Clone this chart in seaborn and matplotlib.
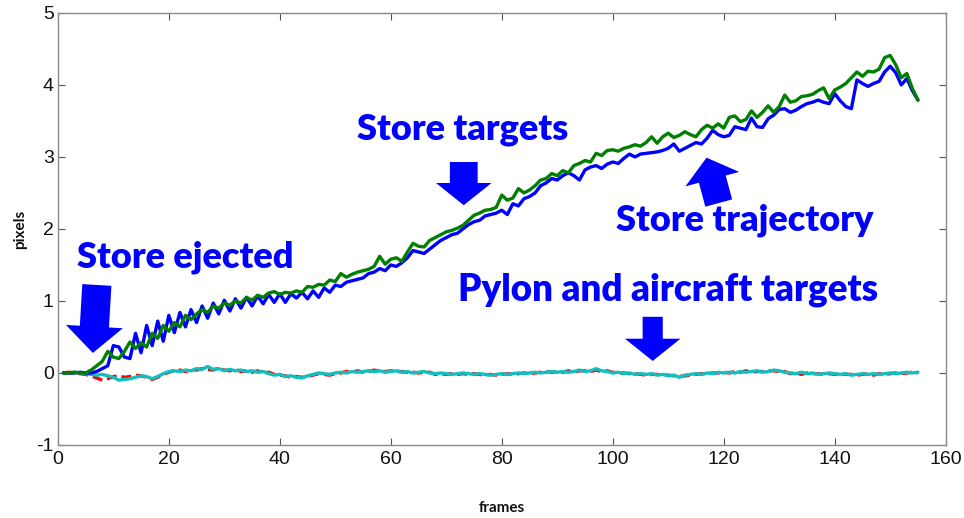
import numpy as np
import pandas as pd
import matplotlib
matplotlib.use("Agg")
import matplotlib.pyplot as plt
import seaborn as sns

# Displacement (pixels) per frame for the tracked targets
frames = list(range(1, 156))

store_trajectory = [
    0.00, 0.00, 0.00, 0.01, 0.00, 0.00, 0.02, 0.06, 0.10, 0.38,
    0.36, 0.22, 0.20, 0.55, 0.28, 0.66, 0.38, 0.72, 0.44, 0.80,
    0.56, 0.84, 0.64, 0.88, 0.70, 0.93, 0.76, 0.97, 0.82, 1.01,
    0.86, 1.03, 0.90, 1.05, 0.93, 1.07, 0.96, 1.09, 0.98, 1.10,
    0.98, 1.10, 1.04, 1.12, 1.03, 1.14, 1.05, 1.18, 1.12, 1.22,
    1.20, 1.26, 1.28, 1.30, 1.32, 1.38, 1.40, 1.45, 1.42, 1.50,
    1.48, 1.53, 1.60, 1.70, 1.68, 1.66, 1.72, 1.78, 1.84, 1.88,
    1.92, 1.94, 2.00, 2.06, 2.10, 2.12, 2.18, 2.20, 2.22, 2.26,
    2.20, 2.35, 2.32, 2.42, 2.45, 2.50, 2.60, 2.64, 2.70, 2.68,
    2.74, 2.78, 2.74, 2.68, 2.82, 2.86, 2.88, 2.84, 2.90, 2.93,
    2.91, 2.98, 3.04, 3.00, 3.04, 3.05, 3.06, 3.07, 3.09, 3.12,
    3.18, 3.08, 3.12, 3.16, 3.20, 3.18, 3.26, 3.37, 3.31, 3.28,
    3.30, 3.42, 3.40, 3.38, 3.54, 3.42, 3.41, 3.53, 3.58, 3.66,
    3.67, 3.62, 3.65, 3.70, 3.74, 3.76, 3.79, 3.76, 3.74, 3.88,
    3.78, 3.70, 3.67, 4.07, 4.02, 3.98, 4.02, 4.05, 4.18, 4.26,
    4.17, 4.00, 4.09, 3.92, 3.79,
]

store_targets = [
    0.00, 0.00, 0.01, 0.00, 0.00, 0.04, 0.10, 0.16, 0.30, 0.22,
    0.20, 0.30, 0.43, 0.34, 0.42, 0.36, 0.55, 0.48, 0.66, 0.58,
    0.70, 0.64, 0.80, 0.74, 0.82, 0.88, 0.84, 0.93, 0.90, 0.97,
    0.94, 1.00, 0.97, 1.05, 1.01, 1.08, 1.05, 1.11, 1.13, 1.09,
    1.12, 1.11, 1.14, 1.12, 1.20, 1.19, 1.23, 1.22, 1.29, 1.27,
    1.38, 1.33, 1.37, 1.40, 1.42, 1.44, 1.48, 1.62, 1.51, 1.58,
    1.60, 1.55, 1.68, 1.80, 1.76, 1.75, 1.84, 1.88, 1.92, 1.96,
    1.98, 2.01, 2.05, 2.12, 2.19, 2.22, 2.26, 2.27, 2.30, 2.47,
    2.40, 2.43, 2.56, 2.50, 2.54, 2.60, 2.68, 2.70, 2.77, 2.74,
    2.81, 2.78, 2.88, 2.91, 2.95, 2.93, 3.05, 3.02, 3.09, 3.10,
    3.08, 3.12, 3.14, 3.17, 3.15, 3.20, 3.28, 3.19, 3.28, 3.33,
    3.27, 3.30, 3.35, 3.31, 3.28, 3.38, 3.44, 3.40, 3.46, 3.40,
    3.55, 3.57, 3.49, 3.52, 3.64, 3.55, 3.62, 3.71, 3.62, 3.70,
    3.86, 3.76, 3.78, 3.84, 3.85, 3.87, 3.92, 3.96, 3.81, 3.93,
    3.97, 4.02, 4.10, 4.18, 4.12, 4.19, 4.18, 4.22, 4.38, 4.41,
    4.28, 4.10, 4.16, 3.95, 3.79,
]

pylon_targets = [
    0.00, 0.01, 0.00, -0.01, -0.02, -0.04, -0.07, -0.10, -0.08, -0.05,
    -0.04, -0.06, -0.05, -0.03, -0.04, -0.06, -0.09, -0.06, -0.02, 0.01,
    0.03, 0.04, 0.02, 0.05, 0.04, 0.06, 0.05, 0.04, 0.07, 0.04,
    0.03, 0.05, 0.02, 0.03, 0.01, 0.03, 0.00, 0.01, -0.02, -0.03,
    -0.04, -0.06, -0.05, -0.06, -0.05, -0.03, -0.01, -0.02, -0.03, -0.01,
    0.00, 0.02, 0.01, 0.03, 0.01, 0.02, 0.04, 0.02, 0.02, 0.03,
    0.02, 0.02, 0.01, 0.01, 0.00, 0.01, 0.01, -0.02, -0.01, -0.02,
    -0.01, -0.02, -0.01, -0.02, -0.01, -0.02, -0.03, -0.02, -0.03, -0.02,
    -0.01, -0.02, -0.01, 0.00, -0.01, 0.00, 0.01, 0.02, 0.01, 0.02,
    0.01, 0.03, 0.01, 0.03, 0.03, 0.02, 0.04, 0.02, 0.03, 0.01,
    0.00, 0.00, -0.01, -0.01, -0.02, -0.03, -0.02, -0.02, -0.03, -0.03,
    -0.04, -0.05, -0.04, -0.03, -0.02, -0.01, -0.01, 0.00, 0.00, 0.01,
    0.00, 0.02, 0.01, 0.03, 0.01, 0.02, 0.02, 0.03, 0.03, 0.02,
    0.02, -0.01, 0.00, -0.02, 0.00, -0.01, -0.01, -0.02, -0.01, -0.02,
    -0.01, -0.02, -0.02, -0.03, -0.02, -0.01, -0.03, -0.01, -0.02, -0.01,
    0.00, -0.01, 0.00, 0.01, 0.00,
]

aircraft_targets = [
    0.00, 0.00, 0.01, 0.00, -0.01, -0.02, -0.03, -0.02, -0.04, -0.06,
    -0.10, -0.09, -0.08, -0.06, -0.04, -0.05, -0.08, -0.05, -0.01, 0.02,
    0.03, 0.02, 0.04, 0.03, 0.06, 0.05, 0.09, 0.05, 0.06, 0.03,
    0.05, 0.03, 0.04, 0.02, 0.03, 0.01, 0.02, -0.01, -0.03, -0.02,
    -0.05, -0.04, -0.06, -0.07, -0.04, -0.02, 0.00, -0.01, -0.02, 0.00,
    0.01, 0.00, 0.02, 0.01, 0.02, 0.03, 0.02, 0.03, 0.01, 0.02,
    0.03, 0.01, 0.02, 0.00, 0.01, 0.02, 0.00, -0.01, 0.00, -0.01,
    -0.02, -0.01, 0.00, -0.01, -0.02, -0.01, -0.02, -0.03, -0.02, -0.01,
    -0.02, -0.01, 0.00, -0.01, 0.00, 0.01, 0.00, 0.01, 0.02, 0.01,
    0.02, 0.01, 0.02, 0.04, 0.02, 0.03, 0.06, 0.03, 0.02, 0.00,
    0.01, -0.01, 0.00, -0.02, -0.01, -0.02, -0.01, -0.03, -0.02, -0.04,
    -0.03, -0.06, -0.03, -0.02, -0.01, -0.02, 0.00, -0.01, 0.01, 0.00,
    0.01, 0.00, 0.02, 0.01, 0.02, 0.03, 0.01, 0.02, 0.04, 0.03,
    0.01, 0.00, -0.01, 0.01, -0.01, 0.00, -0.02, -0.01, 0.00, -0.01,
    -0.02, -0.01, -0.03, -0.02, -0.01, -0.02, -0.01, -0.02, -0.01, 0.00,
    -0.01, 0.00, 0.01, 0.00, 0.01,
]

x_ticks = [0, 20, 40, 60, 80, 100, 120, 140, 160]
y_ticks = [-1, 0, 1, 2, 3, 4, 5]

df = pd.DataFrame({
    "frame": frames,
    "store_trajectory": store_trajectory,
    "store_targets": store_targets,
    "pylon": pylon_targets,
    "aircraft": aircraft_targets,
})

sns.set_style("white")
plt.rcParams["font.family"] = ["Liberation Sans", "DejaVu Sans"]
plt.rcParams["axes.unicode_minus"] = False

fig = plt.figure(figsize=(9.64, 5.18), dpi=100)
ax = fig.add_axes([0.060, 0.141, 0.921, 0.834])

lw = 2.4
sns.lineplot(data=df, x="frame", y="pylon", ax=ax, color="#ff0000", lw=lw,
             linestyle=(0, (3, 1.5)))
sns.lineplot(data=df, x="frame", y="aircraft", ax=ax, color="#10bfbf", lw=lw)
sns.lineplot(data=df, x="frame", y="store_trajectory", ax=ax, color="#0000ff", lw=lw)
sns.lineplot(data=df, x="frame", y="store_targets", ax=ax, color="#007f00", lw=lw)

ax.set_xlim(0, 160)
ax.set_ylim(-1, 5)
ax.set_xticks(x_ticks)
ax.set_yticks(y_ticks)
ax.tick_params(direction="in", length=5, width=0.8, color="#555555",
               labelsize=14, labelcolor="#111111",
               top=True, right=True, bottom=True, left=True)
ax.tick_params(axis="x", pad=4)
ax.tick_params(axis="y", pad=3)
for s in ax.spines.values():
    s.set_visible(True)
    s.set_color("#8a8a8a")
    s.set_linewidth(1.0)

label_font = dict(family=["Lato", "DejaVu Sans"], weight="bold", size=11, color="#111111")
ax.set_xlabel("frames", **label_font)
ax.set_ylabel("pixels", **label_font)
ax.xaxis.set_label_coords(0.5, -0.13)
ax.yaxis.set_label_coords(-0.035, 0.5)

# Callouts
note_font = dict(family=["Lato", "DejaVu Sans"], weight="heavy", size=26,
                 color="#0000ff", ha="center", va="center")
ax.text(22.9, 1.61, "Store ejected", **note_font)
ax.text(73.0, 3.375, "Store targets", **note_font)
ax.text(123.8, 2.125, "Store trajectory", **note_font)
ax.text(110.0, 1.15, "Pylon and aircraft targets", size=26.5,
        **{k: v for k, v in note_font.items() if k != "size"})


def block_arrow(tail, tip, tail_w, head_w, head_l):
    style = f"simple,head_length={head_l},head_width={head_w},tail_width={tail_w}"
    ax.annotate("", xy=tip, xytext=tail, xycoords="data", textcoords="data",
                arrowprops=dict(arrowstyle=style, color="#0000ff", lw=0,
                                mutation_scale=1, shrinkA=0, shrinkB=0))


block_arrow((7.03, 1.222), (6.31, 0.278), 21, 41, 19)
block_arrow((73.15, 2.93), (73.15, 2.33), 20, 40, 16)
block_arrow((119.1, 2.36), (116.9, 2.99), 20, 40, 16)
block_arrow((107.2, 0.78), (107.2, 0.167), 14.5, 40, 16)

fig.savefig("out.png", dpi=100)
